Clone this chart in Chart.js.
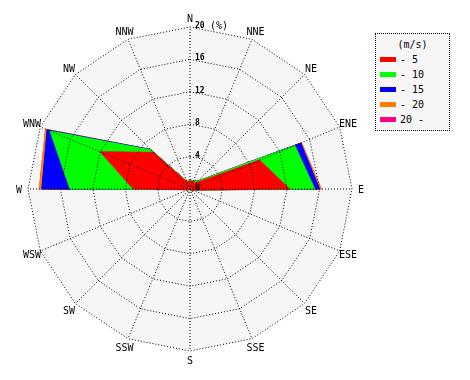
<!DOCTYPE html>
<html><head><meta charset="utf-8">
<script src="https://cdn.jsdelivr.net/npm/chart.js@4/dist/chart.umd.min.js"></script>
<style>
html,body{margin:0;padding:0;background:#fff;}
#wrap{position:relative;width:470px;height:380px;overflow:hidden;}
#c{position:absolute;left:0;top:0;}
#legend{position:absolute;left:375px;top:33px;width:73px;height:96px;border:1px dotted #000;background:#f6f6f6;font:10px "DejaVu Sans Mono",monospace;color:#000;}
#legend .t{position:absolute;left:0;width:73px;top:5px;text-align:center;}
#legend .row{position:absolute;left:4px;height:12px;line-height:12px;white-space:pre;}
#legend .sw{display:inline-block;width:16px;height:5px;vertical-align:middle;margin-right:4px;position:relative;top:-1px;}
</style>
</head><body>
<div id="wrap">
<canvas id="c" width="470" height="380"></canvas>
<div id="legend"><div class="t">(m/s)</div></div>
</div>
<script>
const directions = ['N','NNE','NE','ENE','E','ESE','SE','SSE','S','SSW','SW','WSW','W','WNW','NW','NNW'];
const speedLabels = ['- 5','- 10','- 15','- 20','20 -'];
const speedColors = ['#ff0000','#00ff00','#0000ff','#ff8000','#ff0080'];
const tickValues = [0,4,8,12,16,20];
const unitLabel = '(%)';
// frequency (%) per speed class, per direction (N, NNE, ... NNW)
const class1 = [1.0,1.0,1.1,9.3,12.3,0.3,0.2,0.1,0.1,0.1,0.1,0.2,7.0,12.0,6.4,0.9];
const class2 = [0.1,0.1,0.3,4.7,3.1,0,0,0,0,0,0,0,7.8,6.7,0.4,0.1];
const class3 = [0,0,0,0.8,0.6,0,0,0,0,0,0,0,3.5,0.4,0.1,0];
const class4 = [0,0,0,0.1,0.2,0,0,0,0,0,0,0,0.3,0.2,0,0];
const class5 = [0,0,0,0,0,0,0,0,0,0,0,0,0,0,0,0];
const classes = [class1,class2,class3,class4,class5];

// cumulative stacks for the rose
const stacks = [];
classes.forEach((c,k)=>{
  stacks.push(c.map((v,i)=> (k? stacks[k-1][i] : 0) + v));
});

// legend
const lg = document.getElementById('legend');
speedLabels.forEach((l,k)=>{
  const d = document.createElement('div');
  d.className='row';
  d.style.top = (20 + k*15) + 'px';
  d.innerHTML = '<span class="sw" style="background:'+speedColors[k]+'"></span>'+l;
  lg.appendChild(d);
});

const rosePlugin = {
  id:'rose',
  beforeDatasetsDraw(chart){
    const s = chart.scales.r, ctx = chart.ctx;
    const outer = s.getDistanceFromCenterForValue(s.max);
    ctx.save();
    ctx.beginPath();
    directions.forEach((d,i)=>{ const p = s.getPointPosition(i, outer); i ? ctx.lineTo(p.x,p.y) : ctx.moveTo(p.x,p.y); });
    ctx.closePath();
    ctx.fillStyle = '#f6f6f6';
    ctx.fill();
    ctx.restore();
  },
  afterDraw(chart){
    const s = chart.scales.r, ctx = chart.ctx;
    const outer = s.getDistanceFromCenterForValue(s.max);
    ctx.save();
    ctx.fillStyle = '#000';
    ctx.font = '10px "DejaVu Sans Mono"';
    ctx.textAlign = 'center';
    ctx.textBaseline = 'middle';
    directions.forEach((d,i)=>{ const p = s.getPointPosition(i, outer + 9); ctx.fillText(d, p.x, p.y + 1); });
    ctx.textAlign = 'left';
    tickValues.forEach(v=>{
      const r = s.getDistanceFromCenterForValue(v);
      const x = s.xCenter + 5, y = s.yCenter - r - 1;
      ctx.font = 'bold 8px "DejaVu Sans Mono"';
      ctx.fillText(String(v), x, y);
      if (v === s.max) {
        ctx.font = '10px "DejaVu Sans Mono"';
        ctx.fillText(unitLabel, x + 15, y);
      }
    });
    ctx.restore();
  }
};

new Chart(document.getElementById('c'), {
  type:'radar',
  data:{
    labels: directions,
    datasets: stacks.map((st,k)=>({
      label: speedLabels[k],
      data: st,
      backgroundColor: speedColors[k],
      borderColor: speedColors[k],
      borderWidth: 1,
      pointRadius: 0,
      pointHoverRadius: 0,
      tension: 0,
      fill: true
    }))
  },
  options:{
    responsive:false,
    animation:false,
    layout:{padding:{left:28, top:27, right:118, bottom:29}},
    plugins:{legend:{display:false}, tooltip:{enabled:false}},
    scales:{
      r:{
        min:0, max:20,
        ticks:{display:false, stepSize:4},
        pointLabels:{display:false},
        grid:{color:'#000', lineWidth:1, z:1, circular:false},
        border:{dash:[1,2]},
        angleLines:{color:'#000', lineWidth:1, borderDash:[1,2]}
      }
    }
  },
  plugins:[rosePlugin]
});
</script>
</body></html>
